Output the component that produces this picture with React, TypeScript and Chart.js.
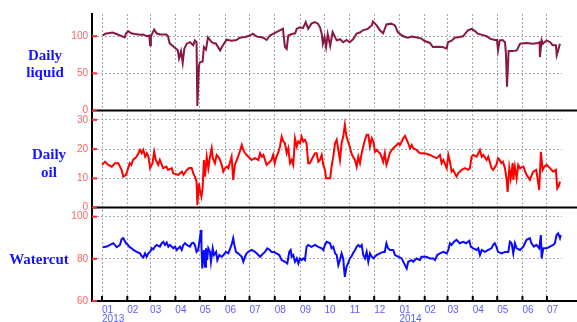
import React, { useEffect, useRef } from 'react';
import { Chart, registerables } from 'chart.js';

Chart.register(...registerables);

// x values are days counted from 2013-01-01
const monthDays = [0, 31, 59, 90, 120, 151, 181, 212, 243, 273, 304, 334, 365, 396, 424, 455, 485, 516, 546];
const monthLabels = ['01', '02', '03', '04', '05', '06', '07', '08', '09', '10', '11', '12', '01', '02', '03', '04', '05', '06', '07'];
const yearLabels = ['2013', '', '', '', '', '', '', '', '', '', '', '', '2014', '', '', '', '', '', ''];

const liquidTicks = [0, 50, 100];
const oilTicks = [0, 10, 20, 30];
const watercutTicks = [60, 80, 100];

const panelTitles = [['Daily', 'liquid'], ['Daily', 'oil'], ['Watercut']];

const liquidData: [number, number][] = [
  [1, 101], [4, 103.5], [13, 105], [20, 102], [28, 98.5], [29, 103], [32, 107], [36, 104], [40, 103], [47, 102],
  [50, 102.5], [55, 100], [58, 101], [59, 88], [60, 100], [64, 109], [67, 104], [71, 102.5], [79, 102.5], [81, 100],
  [83, 90.5], [88, 86], [93, 81], [94.5, 70], [97, 80], [99, 64], [101, 83], [104, 90], [108, 92], [112, 88],
  [114, 94.5], [116, 92], [117, 6], [119, 60], [120, 65], [123.5, 66], [125, 85.5], [127.6, 82], [130, 98.5], [134.6, 92],
  [137, 91], [140, 90], [142, 86], [145, 81], [147, 85.5], [153, 95.4], [159, 94], [165, 95], [169, 98], [175.5, 99],
  [181.6, 101], [185, 103.5], [190, 99.5], [194, 99], [198, 98], [202, 95], [206, 101], [214, 105.7], [218, 108], [222, 110],
  [224.5, 85.5], [226.6, 83], [228.6, 101], [233, 103], [237, 104], [239, 110], [243, 112], [246.6, 111], [250, 119], [253, 110],
  [257, 117], [261, 119], [265, 117], [267.5, 112], [269.6, 103.5], [271, 90], [273, 99], [275, 85.5], [277, 103], [280, 87],
  [283, 105.7], [288, 94.5], [292, 96], [296, 92], [300, 95], [304, 92], [308, 96], [312.5, 103.5], [316.5, 105], [320, 108],
  [326, 110], [331, 114.6], [332.5, 120], [337, 114.6], [341, 108], [345, 104], [349, 116], [355, 117], [359.5, 114.6], [363, 105.7],
  [368, 101], [372, 99], [375.5, 98], [380, 99.5], [384, 99], [388, 98], [392, 96.8], [396, 93.6], [402.5, 91], [406, 85.5],
  [412, 86], [418, 85.5], [423, 83.4], [424.5, 92], [429, 94], [433, 98], [439, 99], [443, 100], [449, 108], [453.6, 110],
  [457.7, 107], [461, 103.5], [467.5, 101.5], [472, 100], [476, 96.8], [482, 95], [484.7, 95], [486, 81], [488, 94.5], [491.6, 95],
  [494.5, 92], [495.7, 76.7], [497, 32], [499, 80], [504, 80], [509, 81], [513, 90], [521, 91], [529, 90], [535, 91],
  [537, 92], [537.4, 72], [539.5, 94.5], [541, 90], [545.6, 94.5], [550, 92], [553, 88], [557, 88], [558, 74.4], [559.5, 80],
  [562, 90]
];

const oilData: [number, number][] = [
  [0, 14.6], [3.7, 15.7], [7.7, 14.6], [12, 14], [16, 15.2], [20, 15.2], [22, 14], [24, 12.9], [26, 10.6], [29.5, 11.2],
  [32, 13.4], [34, 15.2], [36, 14.6], [38, 16.3], [42.5, 17.4], [46.6, 19.7], [48.7, 18.6], [50.7, 19.7], [53, 17.4], [55, 18.6],
  [57, 17.4], [59, 13.5], [62, 15.2], [64, 19.1], [66, 16.3], [69, 14.6], [71, 16.3], [75, 13.5], [79, 14], [81, 12.9],
  [85.5, 13.5], [87.5, 11.7], [93.6, 11.2], [98, 12.3], [100, 11.2], [104, 12.9], [107, 13.5], [110, 13.5], [112, 11.7], [114, 10.6],
  [116, 8.9], [117, 0.9], [119, 8.3], [120, 6], [122, 3.7], [123.5, 6.7], [125, 16.3], [126.4, 10.6], [128.5, 17.4], [130.5, 13.5],
  [132.5, 17.4], [134.6, 20.3], [136, 16.9], [138.6, 15.2], [140.7, 18], [142.7, 17.4], [144.8, 16.3], [146.9, 14.6], [148.8, 12.3], [151, 13.5],
  [153, 14], [155, 13.5], [159, 17.4], [161, 9.5], [163, 14.6], [167, 17.4], [169, 19.1], [171.5, 21.4], [173.4, 19.7], [175.5, 18.6],
  [179.5, 17.4], [183.7, 16.3], [187.7, 16.9], [191.8, 16.3], [193.9, 18.6], [196, 17.4], [198, 18], [200, 16.3], [202, 14.6], [206, 15.7],
  [208, 16.3], [210, 18], [212, 15.2], [214, 17.4], [216, 18.6], [218.4, 20.9], [220.5, 24.3], [222.5, 22.6], [224.5, 22], [226.6, 18.6],
  [228.6, 20.3], [230.7, 15.2], [232.8, 16.3], [234.7, 14.6], [236.8, 23.7], [239, 20.9], [240.9, 22.6], [243, 22], [245, 24.3], [247, 22.6],
  [249, 23.2], [251, 22], [253, 15.2], [255, 15.2], [259, 17.4], [261.4, 18.6], [263.4, 18.6], [265.4, 15.7], [267.5, 16.3], [269.6, 18],
  [271.5, 14.6], [273.6, 12.9], [275, 10], [280, 10], [282, 14.6], [283.8, 17.4], [286, 22], [288, 23.2], [290, 19.7], [292, 16.3],
  [294, 22], [296, 24.3], [298, 28.3], [300, 24.3], [302, 22.6], [304, 20.9], [306, 18.6], [308, 17.4], [310.5, 16.3], [312.5, 14],
  [314.5, 17.4], [316.6, 15.2], [318.7, 18.6], [320.6, 20.9], [322.7, 23.2], [324.8, 24.9], [326.8, 24.9], [328.8, 20.9], [331, 23.7], [333, 22.6],
  [335, 19.1], [337, 19.7], [339, 19.1], [341, 18.6], [343, 17.4], [345, 15.7], [347, 18.6], [349, 14.6], [351, 16.3], [353, 18.6],
  [355.5, 19.7], [357.4, 20.3], [359.5, 20.9], [361.6, 21.4], [363.6, 22], [365.6, 21.4], [367.7, 22.6], [369.7, 23.7], [371.8, 24.5], [373.9, 23.2],
  [375.8, 22], [378, 20.3], [380, 21.4], [382, 20.3], [386, 19.7], [390, 18.6], [396, 18.6], [402.5, 18], [406.5, 17.4], [410.7, 16.9],
  [414.7, 18], [416.8, 15.2], [418.8, 16.3], [423, 13.5], [425, 18], [427, 15.7], [429, 12.3], [431, 12.9], [433, 11.7], [435, 10.6],
  [437, 11.7], [441.4, 12.9], [445.4, 13.5], [449.4, 12.9], [451.5, 13.5], [453.6, 17.4], [455.6, 18], [459.7, 17.4], [463.8, 19.7], [466, 17.4],
  [468, 18], [472, 16.3], [474, 17.4], [478, 13.5], [480, 12.9], [484, 14.6], [486, 16.9], [488, 16.3], [490, 15.2], [492, 15.7],
  [494.5, 13.5], [496.6, 9.5], [497.8, 5.4], [499.8, 13.5], [501.5, 10], [504, 15.2], [504.7, 9.5], [506.7, 14], [508.8, 10], [510.8, 14.6],
  [513, 13.5], [517, 14], [521, 11.2], [525, 9.5], [529, 12.3], [533, 12.9], [536.5, 6], [538.6, 19.1], [540.7, 12.9], [542.7, 14],
  [545.6, 14.6], [549.7, 13.5], [553.7, 12.3], [557, 12.9], [558.7, 6.6], [560.7, 7.5], [562, 8.9]
];

const watercutData: [number, number][] = [
  [1, 85.5], [5.8, 85.8], [9.8, 86.6], [13.9, 87.4], [18, 85.5], [22, 86.6], [24, 89.3], [26, 89.8], [29.5, 87.4], [32, 86.6],
  [34, 85.5], [36.4, 85], [38.4, 84.2], [42.6, 83.3], [46.6, 82.6], [48.7, 81.3], [50.7, 80.7], [52.8, 82.6], [54.8, 81], [56.8, 82.6],
  [59, 83.3], [61, 85], [63, 84.5], [65, 85.8], [67, 86.6], [71, 85.8], [73.3, 87.4], [75.2, 88.1], [77.3, 86.6], [79.4, 87.7],
  [81.4, 85.8], [83.4, 86.6], [87.5, 85], [89.6, 85.8], [91.7, 84.2], [95.7, 85.8], [97.8, 84.2], [99.8, 86.6], [101.8, 87.4], [104, 86.6],
  [108, 85.8], [110, 87.4], [112, 87.7], [114, 86.6], [116, 83.3], [118, 84.2], [121.5, 93.7], [122, 86.6], [123, 75.4], [125, 84.2],
  [126.4, 76.2], [127.6, 85], [129, 79.4], [130.4, 85], [132.5, 83.3], [133.7, 78.6], [135.8, 85], [137.4, 81.8], [140, 83.3], [141.5, 79.4],
  [144, 81.8], [147, 81], [149, 81.8], [152, 83.3], [155, 82.6], [158, 85.7], [159, 86.6], [161, 89.8], [162.4, 86.6], [164.4, 83.3],
  [167, 82.6], [171.5, 81], [173.4, 78.6], [175.5, 81], [177.5, 82.6], [179.5, 83.3], [183.7, 84.2], [187.7, 83.3], [189.8, 82.6], [194, 81],
  [196, 81.8], [200, 83.3], [202.8, 85], [206, 84.2], [208, 83.3], [211, 83.3], [214, 82.6], [217.5, 81.8], [220.5, 79.4], [224.5, 78.6],
  [227.4, 77.8], [229.8, 83.3], [231.5, 84.2], [232.8, 81], [234.7, 81.8], [236.8, 78.6], [239, 80.2], [241, 77.8], [243, 80.2], [245, 79.4],
  [247, 80.2], [249, 79.4], [251, 85.7], [253, 86.6], [257, 85.7], [261.4, 86.6], [265.4, 85.7], [269.6, 85], [271.5, 84.2], [273.6, 86.6],
  [275.7, 88.1], [279.8, 87.4], [281.8, 85], [283.8, 85.7], [286, 82.6], [288, 81.8], [290, 77], [292, 79.4], [294, 82.6], [296, 80.2],
  [297, 75.4], [298, 71.4], [300, 76.2], [302, 77.8], [304, 80.2], [306, 81], [308, 82.6], [310.5, 84.2], [312.5, 85.7], [314.5, 86.6],
  [316.6, 85.7], [318.7, 86.6], [320.6, 81.8], [322.7, 80.2], [324.8, 83.3], [326.8, 78.6], [328.8, 82.6], [331, 81], [333, 80.2], [337, 81.8],
  [341, 82.6], [345, 83.3], [347, 83.3], [349, 87.4], [351, 85], [353.4, 84.2], [357.4, 84.2], [359.5, 81.8], [363.6, 81], [367.7, 80.2],
  [371.8, 77], [373.9, 75.4], [375.8, 78.6], [380, 79.4], [382, 78.6], [386, 80.2], [390, 79.4], [392, 81], [398, 81], [402.5, 80.2],
  [406.5, 80.2], [408.6, 79.4], [411.4, 81.8], [414.7, 82.6], [418.8, 83.3], [423, 82.6], [425, 84.2], [427, 87.4], [429, 86.6], [432, 88.1],
  [435, 89], [439, 87.4], [443.4, 88.1], [446.7, 87.4], [450.8, 88.6], [452.5, 85.8], [455.6, 85], [459.7, 84.2], [461.8, 85], [463.8, 81.8],
  [466, 84.2], [470, 83.3], [474, 84.2], [478, 85], [480, 86.6], [482, 87.4], [484, 85.8], [486, 83.3], [490.4, 82.6], [494.5, 83.3],
  [498.6, 83.3], [500.6, 88.1], [502.7, 87.4], [504.7, 82.6], [506.7, 87.4], [508.8, 85], [513, 84.2], [517, 85.8], [521, 89], [525, 89.8],
  [527, 87.4], [530, 85.8], [533, 86.6], [536.5, 85], [538.6, 91.3], [539.5, 80.2], [541.5, 85], [545.6, 85], [549.7, 85.8], [553.7, 86.6],
  [555.8, 87.4], [557.8, 91.3], [559.8, 92.1], [562, 89.8], [563, 91.3]
];

const titleX = [45, 49, 39];
const titleBaselineOffsets = [[-2.5, 14.5], [-0.5, 17.5], [9.5]];

export default function App() {
  const ref = useRef<HTMLCanvasElement>(null);

  useEffect(() => {
    if (!ref.current) return;
    const toXY = (arr: [number, number][]) => arr.map(([x, y]) => ({ x, y }));
    const gridColor = '#a9a9a9';
    const axisIds = ['yLiquid', 'yOil', 'yWater'];

    const yAxis = (ticks: number[], min: number, max: number, stackWeight: number, weight: number) => ({
      type: 'linear',
      position: 'left',
      stack: 'panels',
      stackWeight,
      weight,
      min,
      max,
      afterBuildTicks: (s: any) => {
        s.ticks = ticks.map((v) => ({ value: v }));
      },
      afterFit: (s: any) => {
        s.width = 92;
      },
      grid: {
        color: (c: any) => (c.tick && c.tick.value === min ? 'rgba(0,0,0,0)' : gridColor),
        lineWidth: 1,
        drawTicks: false,
      },
      border: { display: true, color: '#000', width: 2, dash: [2, 2] },
      ticks: {
        color: '#ff6262',
        padding: 4,
        font: { size: 10, family: 'Liberation Sans' },
      },
    });

    const decor = {
      id: 'decor',
      afterDraw(chart: any) {
        const { ctx, chartArea } = chart;
        ctx.save();
        axisIds.forEach((id, k) => {
          const s = chart.scales[id];
          const yb = s.getPixelForValue(s.min);
          ctx.strokeStyle = '#000';
          ctx.lineWidth = 2;
          ctx.beginPath();
          ctx.moveTo(chartArea.left, yb);
          ctx.lineTo(chart.width, yb);
          ctx.stroke();
          ctx.strokeStyle = '#ff2a2a';
          s.ticks.forEach((t: any) => {
            const y = s.getPixelForValue(t.value);
            ctx.beginPath();
            ctx.moveTo(chartArea.left, y);
            ctx.lineTo(chartArea.left + 5, y);
            ctx.stroke();
          });
          const mid = (s.top + s.bottom) / 2;
          ctx.fillStyle = '#1414ff';
          ctx.font = 'bold 15px "Liberation Serif"';
          ctx.textAlign = 'center';
          ctx.textBaseline = 'alphabetic';
          panelTitles[k].forEach((line, j) => {
            ctx.fillText(line, titleX[k], mid + titleBaselineOffsets[k][j]);
          });
        });
        const xs = chart.scales.x;
        ctx.strokeStyle = '#000';
        ctx.lineWidth = 2;
        xs.ticks.forEach((t: any) => {
          const x = xs.getPixelForValue(t.value);
          ctx.beginPath();
          ctx.moveTo(x, chartArea.bottom);
          ctx.lineTo(x, chartArea.bottom - 5);
          ctx.stroke();
        });
        ctx.restore();
      },
    };

    const chart = new Chart(ref.current, {
      type: 'line',
      data: {
        datasets: [
          { label: 'Daily liquid', data: toXY(liquidData), yAxisID: 'yLiquid', borderColor: '#8a1847', borderWidth: 2, pointRadius: 0, fill: false, tension: 0 },
          { label: 'Daily oil', data: toXY(oilData), yAxisID: 'yOil', borderColor: '#ff0000', borderWidth: 2, pointRadius: 0, fill: false, tension: 0 },
          { label: 'Watercut', data: toXY(watercutData), yAxisID: 'yWater', borderColor: '#0a0aff', borderWidth: 2, pointRadius: 0, fill: false, tension: 0 },
        ],
      },
      options: {
        responsive: false,
        animation: false,
        devicePixelRatio: 1,
        layout: { padding: { top: 14, left: 0, right: 15, bottom: 0 } },
        plugins: { legend: { display: false }, tooltip: { enabled: false } },
        scales: {
          x: {
            type: 'linear',
            min: -12.3,
            max: 564.5,
            afterBuildTicks: (s: any) => {
              s.ticks = monthDays.map((v) => ({ value: v }));
            },
            afterFit: (s: any) => {
              s.height = 21;
            },
            grid: { color: gridColor, lineWidth: 1, drawTicks: false },
            border: { display: true, color: '#000', width: 2, dash: [2, 2] },
            ticks: {
              autoSkip: false,
              maxRotation: 0,
              minRotation: 0,
              align: 'start',
              padding: 4,
              color: '#5c5cff',
              font: { size: 10, family: 'Liberation Sans', lineHeight: 0.95 },
              callback: (_v: any, i: number) => (yearLabels[i] ? [monthLabels[i], yearLabels[i]] : monthLabels[i]),
            },
          },
          yWater: yAxis(watercutTicks, 60, 104.3, 93.4, 1),
          yOil: yAxis(oilTicks, 0, 33.2, 97.1, 2),
          yLiquid: yAxis(liquidTicks, 0, 130, 96.5, 3),
        } as any,
      },
      plugins: [decor],
    } as any);

    return () => chart.destroy();
  }, []);

  return (
    <div style={{ position: 'fixed', left: 0, top: 0, width: 577, height: 322, background: '#fff' }}>
      <canvas ref={ref} width={577} height={322} style={{ display: 'block' }} />
    </div>
  );
}
